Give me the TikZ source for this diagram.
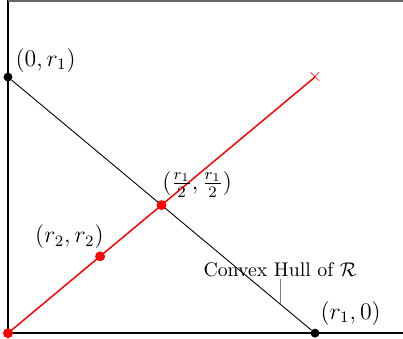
\documentclass[tikz,border=0pt]{standalone}
\usepackage{amsmath,amssymb}
\usetikzlibrary{positioning,arrows.meta}

\begin{document}
\begin{tikzpicture}[
x=155pt,
y=129.3pt,
dot/.style={circle,fill,inner sep=0pt,minimum size=4.5pt},
reddot/.style={dot,red,minimum size=5pt},
lbl/.style={font=\large,inner sep=0pt},
axis/.style={line width=0.8pt},
hull/.style={line width=0.45pt},
ray/.style={red,line width=0.75pt}
]
\useasboundingbox (-0.026,-0.0195) rectangle (1.2866,1.3008);

% axes and frame
\coordinate (O) at (0,0);
\coordinate (xend) at (1.2866,0);
\coordinate (yend) at (0,1.3008);
\coordinate (ytop) at (0,1.295);
\coordinate (corner) at (1.2866,1.295);
\draw[axis] (O) -- (xend);
\draw[axis] (O) -- (yend);
\draw[gray!80!black,line width=1pt] (ytop) -- (corner);

% convex hull
\node[dot] (A) at (0,1) {};
\node[dot] (B) at (1,0) {};
\draw[hull] (A) -- (B);

% the ray
\coordinate (E) at (1,1);
\draw[ray] (O) -- (E);
\node[red,font=\small,inner sep=0pt] (Ex) at (E) {$\times$};
\node[reddot] (O0) at (O) {};
\node[reddot] (M) at (0.5,0.5) {};
\node[reddot] (P) at (0.3,0.3) {};

% labels
\node[lbl] (lblA) at ([shift={(19pt,8.5pt)}]A) {$(0,r_1)$};
\node[lbl] (lblB) at ([shift={(18pt,10pt)}]B) {$(r_1,0)$};
\node[lbl] (lblM) at ([shift={(18pt,10.5pt)}]M) {$(\frac{r_1}{2},\frac{r_1}{2})$};
\node[lbl] (lblP) at ([shift={(-15.5pt,10pt)}]P) {$(r_2,r_2)$};

\path (A) -- (B) coordinate[pos=0.896] (hullpt);
\node[above=12.6pt of hullpt,inner sep=1pt] (hulltxt) {Convex Hull of $\mathcal{R}$};
\draw[gray,line width=0.4pt] (hulltxt) -- (hullpt);

\end{tikzpicture}
\end{document}
